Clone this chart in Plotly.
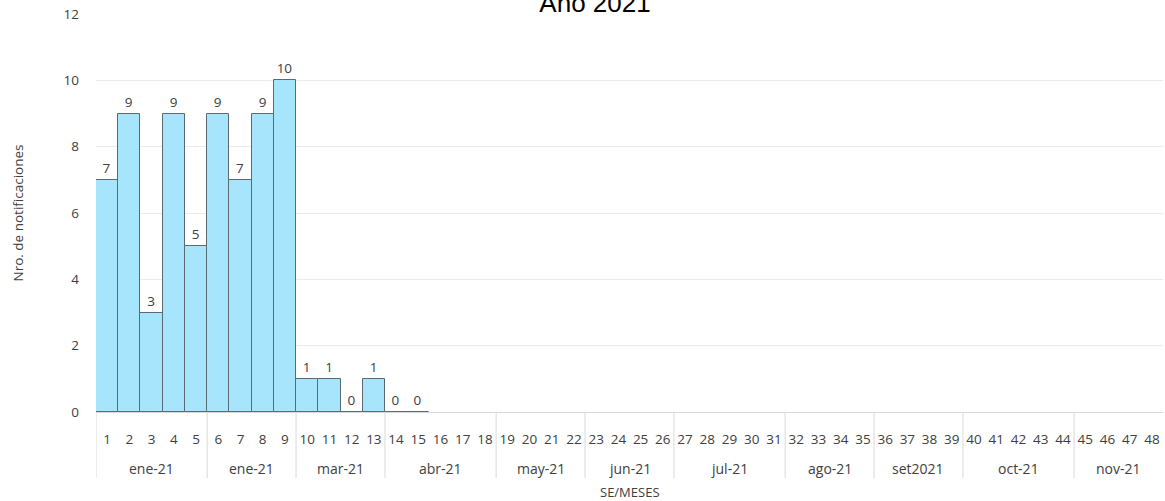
import plotly.graph_objects as go

# ---- data ----
weeks = [1, 2, 3, 4, 5, 6, 7, 8, 9, 10, 11, 12, 13, 14, 15, 16, 17, 18, 19, 20, 21, 22, 23, 24,
         25, 26, 27, 28, 29, 30, 31, 32, 33, 34, 35, 36, 37, 38, 39, 40, 41, 42, 43, 44, 45, 46, 47, 48]
values = [7, 9, 3, 9, 5, 9, 7, 9, 10, 1, 1, 0, 1, 0, 0,
          None, None, None, None, None, None, None, None, None, None, None, None, None, None, None,
          None, None, None, None, None, None, None, None, None, None, None, None, None, None, None,
          None, None, None]
months = ["ene-21", "ene-21", "mar-21", "abr-21", "may-21", "jun-21", "jul-21", "ago-21",
          "set2021", "oct-21", "nov-21"]
month_weeks = [5, 4, 4, 5, 4, 4, 5, 4, 4, 5, 4]

title = "Año 2021"
y_title = "Nro. de notificaciones"
x_title = "SE/MESES"

FONT = "Open Sans"
TXT = "#404040"
FS = 13.5

fig = go.Figure()
fig.add_trace(go.Bar(
    x=weeks, y=values,
    marker=dict(color="#a6e5fb", line=dict(color="#5a6a72", width=1)),
    text=[("" if v is None else str(v)) for v in values],
    textposition="outside",
    textfont=dict(family=FONT, size=FS, color=TXT),
    cliponaxis=False,
    hoverinfo="x+y",
))

# month group labels and dividers
annotations = []
shapes = []
start = 0.5
div_bottom = -(478 - 412) / 398
shapes.append(dict(type="line", xref="x", yref="paper", x0=start, x1=start, y0=0, y1=div_bottom,
                   line=dict(color="#d9d9d9", width=1)))
for m, n in zip(months, month_weeks):
    end = start + n
    annotations.append(dict(x=(start + end) / 2, xref="x", y=0, yref="paper", yanchor="middle",
                            yshift=-56, text=m, showarrow=False,
                            font=dict(family=FONT, size=14, color=TXT)))
    if end < weeks[-1] + 0.5:
        shapes.append(dict(type="line", xref="x", yref="paper", x0=end, x1=end, y0=0, y1=div_bottom,
                           line=dict(color="#d9d9d9", width=1)))
    start = end

annotations.append(dict(x=0.5, xref="paper", y=0, yref="paper", yanchor="middle", yshift=-80,
                        text=x_title, showarrow=False, font=dict(family=FONT, size=13, color=TXT)))

fig.update_layout(
    width=1165, height=501,
    margin=dict(l=96, r=2, t=14, b=89),
    paper_bgcolor="white", plot_bgcolor="white",
    bargap=0,
    showlegend=False,
    title=dict(text=title, x=595 / 1165, xanchor="center", y=1 - 3 / 501, yref="container",
               yanchor="middle",
               font=dict(family="Liberation Sans, Arial", size=26, color="#000000")),
    xaxis=dict(range=[0.5, 48.5], tickmode="array", tickvals=weeks, ticktext=[str(w) for w in weeks],
               showgrid=False, zeroline=False, showline=True, linecolor="#d9d9d9", ticks="",
               ticklabelstandoff=15, tickfont=dict(family=FONT, size=FS, color=TXT)),
    yaxis=dict(range=[0, 12], dtick=2, showgrid=True, gridcolor="#ebebeb", zeroline=False,
               showline=False, ticks="", ticklabelstandoff=16,
               tickfont=dict(family=FONT, size=FS, color=TXT),
               title=dict(text=y_title, standoff=36, font=dict(family=FONT, size=13.5, color=TXT))),
    annotations=annotations,
    shapes=shapes,
)

fig.write_html("out.html", config={"displayModeBar": False},
               post_script="document.body.style.margin='0';document.body.style.overflow='hidden';")
